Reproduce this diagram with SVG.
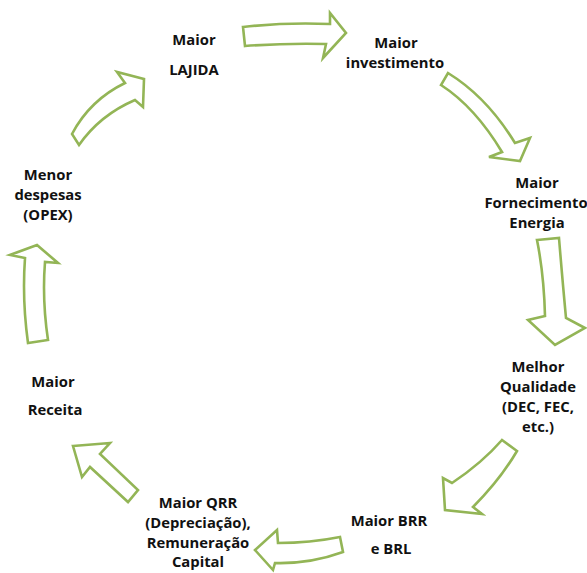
<svg xmlns="http://www.w3.org/2000/svg" width="587" height="573" viewBox="0 0 587 573">
<style>
.lbl{font-family:"Open Sans","Liberation Sans",sans-serif;font-weight:700;font-size:14.8px;fill:#111111;text-anchor:middle}
.arr{fill:#ffffff;stroke:#93B556;stroke-width:2.6;stroke-linejoin:miter}
</style>
<rect width="587" height="573" fill="#ffffff"/>
<g id="connectors">
<path class="arr" d="M243,27 Q287,22 330,24 L330,13 L346,33 L323,58 L326,44 Q286,43 245,46 Z"/>
<path class="arr" d="M448,73 Q487,97 515,143 L530,138 L520,161 L489,157 L502,152 Q475,107 441,85 Z"/>
<path class="arr" d="M537,240 L559,238 Q562,275 566,318 L585,328 L555,345 L528,320 L545,316 Q544,275 537,240 Z"/>
<path class="arr" d="M502,440 L517,451 Q500,480 473,507 L482,514 L445,510 L443,478 L452,483 Q482,463 502,440 Z"/>
<path class="arr" d="M340,537 Q310,543 278,543 L277,530 L255,550 L273,570 L275,563 Q310,564 343,552 Z"/>
<path class="arr" d="M73,446 L110,443 L100,454 L138,490 L128,502 L90,467 L82,477 Z"/>
<path class="arr" d="M37,245 L58,263 L45,262 Q42,300 48,340 L28,343 Q22,300 25,258 L10,255 Z"/>
<path class="arr" d="M144,79 L143,107 L135,100 Q100,115 79,145 L72,134 Q90,100 125,83 L117,72 Z"/>
</g>
<g id="n-lajida"><text class="lbl" x="194" y="45">Maior</text><text class="lbl" x="194" y="75">LAJIDA</text></g>
<g id="n-invest"><text class="lbl" x="396" y="48">Maior</text><text class="lbl" x="395" y="68">investimento</text></g>
<g id="n-fornec"><text class="lbl" x="537" y="188">Maior</text><text class="lbl" x="536" y="208">Fornecimento</text><text class="lbl" x="537" y="228">Energia</text></g>
<g id="n-qualid"><text class="lbl" x="538" y="372">Melhor</text><text class="lbl" x="538" y="392">Qualidade</text><text class="lbl" x="538" y="412">(DEC, FEC,</text><text class="lbl" x="538" y="432">etc.)</text></g>
<g id="n-brr"><text class="lbl" x="389" y="526">Maior BRR</text><text class="lbl" x="391" y="554">e BRL</text></g>
<g id="n-qrr"><text class="lbl" x="198" y="508">Maior QRR</text><text class="lbl" x="198" y="528">(Depreciação),</text><text class="lbl" x="198" y="548">Remuneração</text><text class="lbl" x="198" y="567">Capital</text></g>
<g id="n-receita"><text class="lbl" x="53" y="387">Maior</text><text class="lbl" x="55" y="415">Receita</text></g>
<g id="n-opex"><text class="lbl" x="48" y="180">Menor</text><text class="lbl" x="48" y="200">despesas</text><text class="lbl" x="48" y="220">(OPEX)</text></g>
</svg>
